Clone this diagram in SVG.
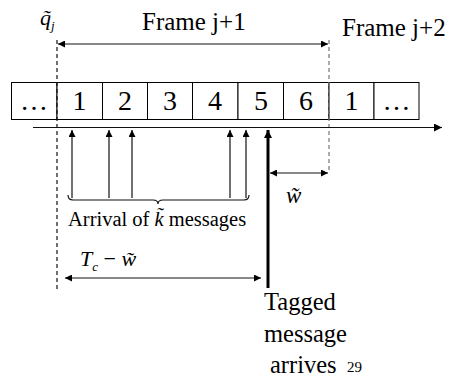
<svg xmlns="http://www.w3.org/2000/svg" width="454" height="379" viewBox="0 0 454 379" font-family="'Liberation Serif','Times New Roman','DejaVu Serif',serif">
<style>
text{font-family:'Liberation Serif','Times New Roman','DejaVu Serif',serif;fill:#000}
.it{font-style:italic}
.box{fill:#fff;stroke:#000;stroke-width:1}
.ln{stroke:#111;stroke-width:1.2;fill:none}
.dash{stroke:#111;stroke-width:1.2;stroke-dasharray:4,3;fill:none}
.dash2{stroke:#777;stroke-width:1.2;stroke-dasharray:4,3;fill:none}
.num{font-size:28px;text-anchor:middle}
.big{font-size:24.5px}
</style>
<defs>
<marker id="ah" viewBox="0 0 10 10" refX="10" refY="5" markerWidth="7" markerHeight="7" markerUnits="userSpaceOnUse" orient="auto-start-reverse">
<path d="M0,0 L10,5 L0,10 z" fill="#000"/>
</marker>
<marker id="ahL" viewBox="0 0 10 10" refX="10" refY="5" markerWidth="9" markerHeight="8" markerUnits="userSpaceOnUse" orient="auto-start-reverse">
<path d="M0,0 L10,5 L0,10 z" fill="#000"/>
</marker>
</defs>
<rect width="454" height="379" fill="#fff"/>

<g id="slots">
<rect class="box" x="11.5" y="82.5" width="45.5" height="37"/>
<rect class="box" x="57" y="82.5" width="45.5" height="37"/>
<rect class="box" x="102.5" y="82.5" width="45" height="37"/>
<rect class="box" x="147.5" y="82.5" width="45" height="37"/>
<rect class="box" x="192.5" y="82.5" width="45.5" height="37"/>
<rect class="box" x="238" y="82.5" width="45.5" height="37"/>
<rect class="box" x="283.5" y="82.5" width="45.5" height="37"/>
<rect class="box" x="329" y="82.5" width="45" height="37"/>
<rect class="box" x="374" y="82.5" width="45" height="37"/>
<text class="num" x="34" y="110">…</text>
<text class="num" x="79.5" y="110">1</text>
<text class="num" x="125" y="110">2</text>
<text class="num" x="170" y="110">3</text>
<text class="num" x="215" y="110">4</text>
<text class="num" x="261" y="110">5</text>
<text class="num" x="306" y="110">6</text>
<text class="num" x="351.5" y="110">1</text>
<text class="num" x="396.5" y="110">…</text>
</g>

<g id="labels">
<text x="40" y="25" font-size="22"><tspan class="it">q̃</tspan><tspan class="it" font-size="13" dy="5">j</tspan></text>
<text x="142" y="30" font-size="25">Frame j+1</text>
<text x="342" y="36" font-size="25">Frame j+2</text>
<text x="68" y="226" font-size="20.5">Arrival of <tspan class="it">k̃</tspan> messages</text>
<text class="it" x="286" y="203" font-size="23">w̃</text>
<text x="80" y="266" font-size="22"><tspan class="it">T</tspan><tspan class="it" font-size="13" dy="5">c</tspan><tspan dy="-5"> − </tspan><tspan class="it">w̃</tspan></text>
<text class="big" x="264" y="310">Tagged</text>
<text class="big" x="264" y="342">message</text>
<text class="big" x="270" y="373">arrives</text>
<text x="347" y="372" font-size="15">29</text>
</g>

<g id="connectors">
<line class="dash" x1="57" y1="40" x2="57" y2="292"/>
<line class="dash2" x1="329" y1="40" x2="329" y2="173"/>
<line class="ln" x1="58" y1="44" x2="328" y2="44" marker-start="url(#ah)" marker-end="url(#ah)"/>
<line class="ln" x1="33" y1="127.5" x2="442" y2="127.5" marker-end="url(#ahL)"/>
<line class="ln" x1="72" y1="198" x2="72" y2="130" marker-end="url(#ah)"/>
<line class="ln" x1="109" y1="198" x2="109" y2="130" marker-end="url(#ah)"/>
<line class="ln" x1="132" y1="198" x2="132" y2="130" marker-end="url(#ah)"/>
<line class="ln" x1="230" y1="198" x2="230" y2="130" marker-end="url(#ah)"/>
<line class="ln" x1="246" y1="198" x2="246" y2="130" marker-end="url(#ah)"/>
<line x1="268" y1="288" x2="268" y2="130" stroke="#000" stroke-width="3" marker-end="url(#ahL)"/>
<path class="ln" d="M68,195 Q68,200 73,200 L153,200 Q158,200 158,204 Q158,200 163,200 L244,200 Q249,200 249,195"/>
<line class="ln" x1="270" y1="173" x2="328" y2="173" marker-start="url(#ah)" marker-end="url(#ah)"/>
<line class="ln" x1="65" y1="278" x2="261" y2="278" marker-start="url(#ah)" marker-end="url(#ah)"/>
</g>
</svg>
